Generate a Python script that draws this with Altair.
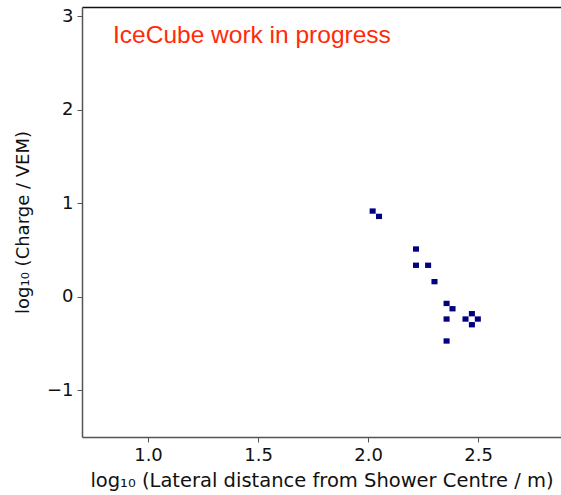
import altair as alt
import pandas as pd

# Occupied bins of the lateral charge distribution (bin centres)
log_distance = [2.021, 2.050, 2.218, 2.218, 2.273, 2.302, 2.357,
                2.384, 2.357, 2.443, 2.472, 2.499, 2.472, 2.357]
log_charge = [0.917, 0.860, 0.511, 0.337, 0.337, 0.162, -0.071,
              -0.128, -0.238, -0.238, -0.181, -0.238, -0.299, -0.473]

# Bin size of the 2D histogram
BIN_X = 0.0275
BIN_Y = 0.057

x_ticks = [1.0, 1.5, 2.0, 2.5]
y_ticks = [-1, 0, 1, 2, 3]
x_domain = [0.7, 2.877]
y_domain = [-1.5, 3.1]

df = pd.DataFrame({"x": log_distance, "y": log_charge})
df["x0"] = df["x"] - BIN_X / 2
df["x1"] = df["x"] + BIN_X / 2
df["y0"] = df["y"] - BIN_Y / 2
df["y1"] = df["y"] + BIN_Y / 2

FONT = "DejaVu Sans"
x_scale = alt.Scale(domain=x_domain, nice=False, zero=False)
y_scale = alt.Scale(domain=y_domain, nice=False, zero=False)

cells = alt.Chart(df).mark_rect(color="#000080").encode(
    x=alt.X(
        "x0:Q",
        scale=x_scale,
        axis=alt.Axis(
            values=x_ticks, format=".1f", grid=False,
            title="log₁₀ (Lateral distance from Shower Centre / m)",
            titleFont=FONT, titleFontSize=19.5, titleFontWeight="normal",
            titleColor="#111", titlePadding=7,
            labelFont=FONT, labelFontSize=18, labelColor="#111",
            labelPadding=4, tickSize=5, tickColor="#555",
            domainColor="#555", domainWidth=1.5,
        ),
    ),
    x2="x1:Q",
    y=alt.Y(
        "y0:Q",
        scale=y_scale,
        axis=alt.Axis(
            values=y_ticks, format="d", grid=False,
            title="log₁₀ (Charge / VEM)",
            titleFont=FONT, titleFontSize=18, titleFontWeight="normal",
            titleColor="#111", titlePadding=14,
            labelFont=FONT, labelFontSize=18, labelColor="#111",
            labelPadding=4, tickSize=5, tickColor="#555",
            domainColor="#555", domainWidth=1.5,
        ),
    ),
    y2="y1:Q",
)

# Top spine of the frame
top_frame = alt.Chart(df).mark_rect(opacity=0).encode(
    x=alt.X(
        "x0:Q", scale=x_scale,
        axis=alt.Axis(orient="top", labels=False, ticks=False, title=None,
                      grid=False, domainColor="#111", domainWidth=1.5),
    ),
    x2="x1:Q",
    y=alt.Y("y0:Q", scale=y_scale),
    y2="y1:Q",
)

label = alt.Chart(pd.DataFrame({"t": ["IceCube work in progress"]})).mark_text(
    align="left", baseline="alphabetic", font="Liberation Sans",
    fontSize=24.5, color="#ff2a0a",
).encode(
    x=alt.value(31),
    y=alt.value(36),
    text="t:N",
)

chart = alt.layer(top_frame, cells, label).resolve_axis(
    x="independent"
).properties(
    width=479,
    height=430,
    autosize=alt.AutoSizeParams(type="none"),
    padding={"left": 82, "top": 7, "right": 0, "bottom": 58},
).configure_view(stroke=None).configure(background="white")

chart.save("out.html", embed_options={"renderer": "svg", "actions": False})
